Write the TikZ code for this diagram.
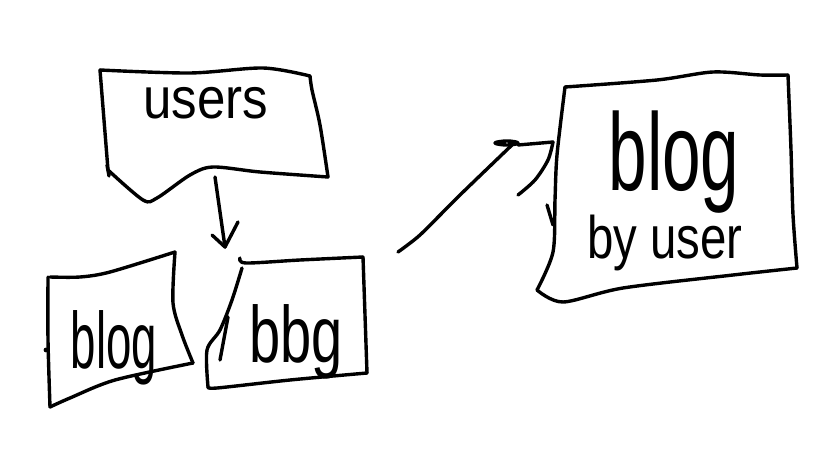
\documentclass[tikz,border=0pt]{standalone}
\usepackage{fontspec}
\setmainfont{Liberation Sans}
\usetikzlibrary{calc}
\begin{document}
\begin{tikzpicture}[x=1pt,y=-1pt,
  ink/.style={line width=3.4pt,line cap=round,line join=round,black},
  scrawl/.style={inner sep=0pt,anchor=base,black}]
\useasboundingbox[fill=white] (0,0) rectangle (819,460);

% users box
\draw[ink] plot[smooth,tension=0.5] coordinates {(100,70) (190,73) (263,68) (310,76)};
\draw[ink] plot[smooth,tension=0.5] coordinates {(310,76) (312,90) (320,125) (328,177)};
\draw[ink] plot[smooth,tension=0.5] coordinates {(328,177) (260,172) (213,167) (190,175) (157,198) (143,200) (108,170)};
\draw[ink] plot[smooth,tension=0.5] coordinates {(108,170) (104,120) (100,70)};
\draw[ink] (107,165) -- (109,176);
\node[scrawl] (users) at (206,118) {\fontsize{58}{58}\selectfont\scalebox{0.88}[1]{users}};

% arrow down from users
\coordinate (dn0) at (215,177);
\coordinate (dn1) at (225,247);
\draw[ink] (dn0) -- (dn1);
\draw[ink] (212,235) -- (dn1) -- (238,222);

% left blog box
\draw[ink] plot[smooth,tension=0.5] coordinates {(50,277) (80,277) (110,272) (175,252)};
\draw[ink] plot[smooth,tension=0.5] coordinates {(175,252) (173,303) (182,335) (193,363)};
\draw[ink] plot[smooth,tension=0.5] coordinates {(193,363) (115,380) (70,398) (50,407)};
\draw[ink] plot[smooth,tension=0.5] coordinates {(50,407) (48,340) (48,277)};
\fill (46,350) circle (2.4pt);
\node[scrawl] (blogA) at (114,368) {\fontsize{80}{80}\selectfont\scalebox{0.57}[1]{blog}};

% second blog box
\draw[ink] plot[smooth,tension=0.5] coordinates {(240,258) (246,263) (300,260) (363,257)};
\draw[ink] (363,257) -- (367,373);
\draw[ink] plot[smooth,tension=0.5] coordinates {(367,373) (290,380) (217,388) (208,387)};
\draw[ink] plot[smooth,tension=0.5] coordinates {(208,387) (207,350) (220,330) (232,300) (242,268)};
\draw[ink] (228,317) -- (220,360);
\node[scrawl] (blogB) at (296,362) {\fontsize{80}{80}\selectfont\scalebox{0.7}[1]{bbg}};

% pointer towards the blog-by-user box
\coordinate (pt0) at (398,252);
\coordinate (pt1) at (513,144);
\draw[ink] plot[smooth,tension=0.4] coordinates {(pt0) (420,235) (460,195) (pt1)};
\draw[ink] plot[smooth cycle,tension=0.8] coordinates {(495,143) (507,141) (518,143) (507,145)};
\draw[ink] (518,145) -- (553,142);
\draw[ink] plot[smooth,tension=0.5] coordinates {(553,142) (548,160) (535,180) (518,195)};

% blog by user box
\draw[ink] plot[smooth,tension=0.5] coordinates {(565,87) (657,80) (713,72) (760,75) (788,75)};
\draw[ink] plot[smooth,tension=0.5] coordinates {(788,75) (791,150) (793,215) (797,268)};
\draw[ink] plot[smooth,tension=0.5] coordinates {(797,268) (733,275) (623,288) (563,302) (537,290)};
\draw[ink] plot[smooth,tension=0.5] coordinates {(537,290) (553,252) (555,200) (557,155) (565,87)};
\draw[ink] (547,205) -- (553,225);
\node[scrawl] (blogC) at (674,190) {\fontsize{110}{110}\selectfont\scalebox{0.63}[1]{blog}};
\node[scrawl] (byuser) at (665,258) {\fontsize{60}{60}\selectfont\scalebox{0.79}[1]{by user}};
\end{tikzpicture}
\end{document}
